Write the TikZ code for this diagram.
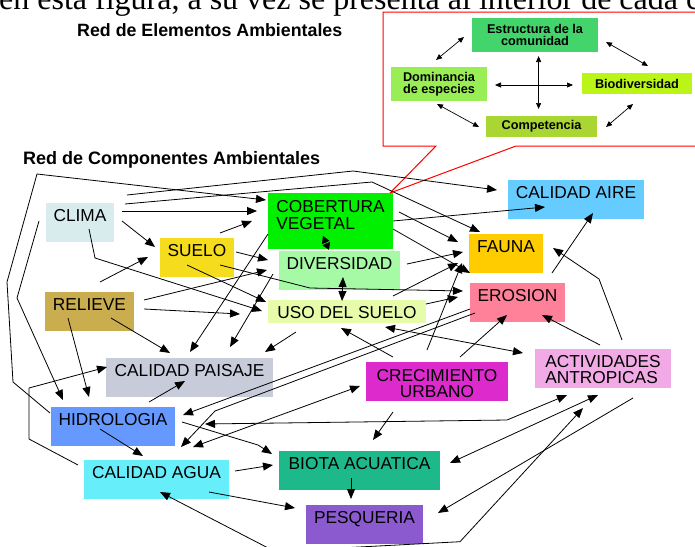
\documentclass[tikz,border=0pt]{standalone}
\usepackage{fontspec}
\setmainfont{Liberation Sans}
\newfontfamily\serifa{Liberation Serif}
\usetikzlibrary{arrows.meta,calc}
\definecolor{fclima}{HTML}{D8ECEE}
\definecolor{fsuelo}{HTML}{F5DC1C}
\definecolor{frelieve}{HTML}{C9AD4F}
\definecolor{fcob}{HTML}{00F000}
\definecolor{fdiv}{HTML}{A6FAA6}
\definecolor{fuso}{HTML}{E6FCAA}
\definecolor{faire}{HTML}{66CCFF}
\definecolor{ffauna}{HTML}{FFCC00}
\definecolor{ferosion}{HTML}{FF8099}
\definecolor{fpaisaje}{HTML}{C8CCDA}
\definecolor{fhidro}{HTML}{6699FF}
\definecolor{fagua}{HTML}{66EEFA}
\definecolor{fbiota}{HTML}{1DB98A}
\definecolor{fpesca}{HTML}{8C5ACF}
\definecolor{fcrec}{HTML}{DD2ACC}
\definecolor{factiv}{HTML}{F2AAE6}
\definecolor{festr}{HTML}{44D46C}
\definecolor{fdom}{HTML}{99EE55}
\definecolor{fbio}{HTML}{BBF518}
\definecolor{fcomp}{HTML}{AAD633}
\definecolor{rojo}{HTML}{FF0000}

\begin{document}
\begin{tikzpicture}[x=1pt,y=-1pt,
    caja/.style={anchor=north west,inner sep=0pt,outer sep=0pt},
    lbl/.style={anchor=north,yshift=-6pt,inner sep=0pt,align=center,
      font=\fontsize{17.3}{16.5}\selectfont},
    elem/.style={anchor=north west,inner sep=0pt,outer sep=0pt,align=center,
      font=\bfseries\fontsize{12.7}{12.3}\selectfont},
    titulo/.style={anchor=base west,inner sep=0pt},
    flecha/.style={-{Triangle[length=10pt,width=8pt]},line width=0.8pt},
    doble/.style={{Triangle[length=10pt,width=8pt]}-{Triangle[length=10pt,width=8pt]},line width=0.8pt},
    dbl/.style={{Triangle[length=6pt,width=5pt]}-{Triangle[length=6pt,width=5pt]},line width=0.7pt},
  ]
  \useasboundingbox (0,0) rectangle (695,546);
  \clip (0,0) rectangle (695,546);

  \node[titulo,font=\serifa\fontsize{32}{36}\selectfont] (texto) at (-1,9.5)
    {en esta figura, a su vez se presenta al interior de cada c};
  \node[titulo,font=\bfseries\fontsize{17.8}{20}\selectfont] (tit1) at (77,36)
    {Red de Elementos Ambientales};
  \node[titulo,font=\bfseries\fontsize{18}{20}\selectfont] (tit2) at (23,164)
    {Red de Componentes Ambientales};

  % recuadro de elementos
  \draw[rojo,line width=1pt] (700,12) -- (383,12) -- (383,146) -- (436,146)
    -- (390,193) -- (516,146) -- (700,146);
  \node[elem,fill=festr,minimum width=126pt,minimum height=34pt] (est) at (472,18)
    {Estructura de la\\comunidad};
  \node[elem,fill=fdom,minimum width=96pt,minimum height=34pt] (dom) at (391,67)
    {Dominancia\\de especies};
  \node[elem,fill=fbio,minimum width=110pt,minimum height=21pt] (bio) at (582,73)
    {Biodiversidad};
  \node[elem,fill=fcomp,minimum width=111pt,minimum height=21pt] (comp) at (486,116)
    {Competencia};

  \draw[dbl] ([shift={(-3,-7)}]dom.north) -- ([shift={(-8,2)}]est.west);
  \draw[dbl] ([shift={(8,7)}]est.east) -- ([shift={(11,-7)}]bio.north);
  \draw[dbl] ([shift={(-2,3)}]dom.south) -- ([shift={(-7,0.5)}]comp.west);
  \draw[dbl] ([shift={(9,0.5)}]comp.east) -- ([shift={(-4,10)}]bio.south);
  \draw[dbl] ([shift={(3.6,4)}]est.south) -- ([shift={(-2.9,-7)}]comp.north);
  \draw[dbl] ([shift={(8,1)}]dom.east) -- ([shift={(-9,1.5)}]bio.west);

  % componentes
  \node[caja,fill=fclima,minimum width=68pt,minimum height=39pt,
    label={[lbl]north:CLIMA}] (clima) at (46,203) {};
  \node[caja,fill=fsuelo,minimum width=74pt,minimum height=39pt,
    label={[lbl]north:SUELO}] (suelo) at (160,238) {};
  \node[caja,fill=frelieve,minimum width=89pt,minimum height=39pt,
    label={[lbl]north:RELIEVE}] (relieve) at (45,292) {};
  \node[caja,fill=fcob,minimum width=125pt,minimum height=56pt,
    label={[lbl,align=left,yshift=-1.5pt]north:COBERTURA\\VEGETAL}] (cob) at (268,193) {};
  \node[caja,fill=fdiv,minimum width=121pt,minimum height=39pt,
    label={[lbl]north:DIVERSIDAD}] (div) at (279,251) {};
  \node[caja,fill=fuso,minimum width=158pt,minimum height=23pt,
    label={[lbl]north:USO DEL SUELO}] (uso) at (268,300) {};
  \node[caja,fill=faire,minimum width=136pt,minimum height=39pt,
    label={[lbl]north:CALIDAD AIRE}] (caire) at (508,180) {};
  \node[caja,fill=ffauna,minimum width=74pt,minimum height=39pt,
    label={[lbl]north:FAUNA}] (fauna) at (469,234) {};
  \node[caja,fill=ferosion,minimum width=95pt,minimum height=39pt,
    label={[lbl]north:EROSION}] (eros) at (470,283) {};
  \node[caja,fill=fpaisaje,minimum width=167pt,minimum height=39pt,
    label={[lbl]north:CALIDAD PAISAJE}] (cpai) at (106,358) {};
  \node[caja,fill=fhidro,minimum width=124pt,minimum height=39pt,
    label={[lbl]north:HIDROLOGIA}] (hidro) at (51,407) {};
  \node[caja,fill=fagua,minimum width=145pt,minimum height=39pt,
    label={[lbl]north:CALIDAD AGUA}] (cagua) at (84,460) {};
  \node[caja,fill=fbiota,minimum width=161pt,minimum height=39pt,
    label={[lbl]north:BIOTA ACUATICA}] (biota) at (279,451) {};
  \node[caja,fill=fpesca,minimum width=117pt,minimum height=39pt,
    label={[lbl]north:PESQUERIA}] (pesca) at (306,505) {};
  \node[caja,fill=fcrec,minimum width=142pt,minimum height=39pt,
    label={[lbl,yshift=-1pt]north:CRECIMIENTO\\URBANO}] (crec) at (366,362) {};
  \node[caja,fill=factiv,minimum width=136pt,minimum height=39pt,
    label={[lbl,align=left]north:ACTIVIDADES\\ANTROPICAS}] (activ) at (535,349) {};

  % relaciones desde clima, suelo y relieve
  \draw[flecha] ([shift={(76,8)}]clima.north west) -- ([shift={(-11,18)}]cob.north west);
  \draw[flecha] ([shift={(76,18)}]clima.north west) -- ([shift={(-5,9)}]suelo.north west);
  \draw[flecha] ([shift={(81,-8)}]clima.north west) -- (353,171) -- ([shift={(-11,10)}]caire.north west);
  \draw[flecha] ([shift={(79,1)}]clima.north west) -- (372,182) -- ([shift={(11,-2)}]fauna.north west);
  \draw[flecha] ([shift={(43,26)}]clima.north west) -- (95,258) -- ([shift={(-6,11)}]uso.north west);
  \draw[flecha] ([shift={(-7,18)}]clima.north west) -- (17,298) -- ([shift={(12,-7)}]hidro.north west);
  \draw[flecha] ([shift={(-1,6)}]hidro.north west) -- (13,382) -- (7,282) -- (37,174)
    -- ([shift={(-2,7)}]cob.north west);
  \draw[flecha] ([shift={(60,-5)}]suelo.north west) -- ([shift={(-16,28)}]cob.north west);
  \draw[flecha] ([shift={(76,14)}]suelo.north west) -- ([shift={(-11,9)}]div.north west);
  \draw[flecha] ([shift={(27,27)}]suelo.north west) -- ([shift={(-2,2)}]uso.north west);
  \draw[flecha] ([shift={(60,27)}]suelo.north west) -- (310,288) -- ([shift={(-7,8)}]eros.north west);
  \draw[flecha] ([shift={(55,-10)}]relieve.north west) -- ([shift={(-12,19)}]suelo.north west);
  \draw[flecha] ([shift={(99,8)}]relieve.north west) -- ([shift={(-12,19)}]div.north west);
  \draw[flecha] ([shift={(99,17)}]relieve.north west) -- ([shift={(-28,14)}]uso.north west);
  \draw[flecha] ([shift={(66,26)}]relieve.north west) -- ([shift={(64,-5)}]cpai.north west);
  \draw[flecha] ([shift={(23,26)}]relieve.north west) -- ([shift={(38,-10)}]hidro.north west);

  % cobertura, diversidad y uso del suelo
  \draw[flecha] ([shift={(125,28)}]cob.north west) -- ([shift={(37,27)}]caire.north west);
  \draw[flecha] ([shift={(131,19)}]cob.north west) -- ([shift={(-11,8)}]fauna.north west);
  \draw[flecha] ([shift={(125,36)}]cob.north west) -- ([shift={(0,-10)}]eros.north west);
  \draw[{Triangle[length=7pt,width=8pt]}-{Triangle[length=7pt,width=8pt]},line width=0.8pt]
    ([shift={(55,43)}]cob.north west) -- ([shift={(50,-1)}]div.north west);
  \draw[flecha] ([shift={(0,41)}]cob.north west) -- ([shift={(84,-6)}]cpai.north west);
  \draw[flecha] ([shift={(128,13)}]div.north west) -- ([shift={(-6,18)}]fauna.north west);
  \draw[doble] ([shift={(64,26)}]div.north west) -- ([shift={(74,1)}]uso.north west);
  \draw[flecha] ([shift={(-6,23)}]div.north west) -- ([shift={(124,-11)}]cpai.north west);
  \draw[flecha] ([shift={(125,-4)}]uso.north west) -- ([shift={(-11,29)}]fauna.north west);
  \draw[flecha] ([shift={(158,4)}]uso.north west) -- ([shift={(-12,14)}]eros.north west);
  \draw[flecha] ([shift={(28,32)}]uso.north west) -- ([shift={(159,-6)}]cpai.north west);

  % hidrologia y calidad agua
  \draw[flecha] ([shift={(98,-5)}]hidro.north west) -- ([shift={(79,23)}]cpai.north west);
  \draw[flecha] ([shift={(-6,5)}]cagua.north west) -- (29,439) -- (29,388) -- ([shift={(1,9)}]cpai.north west);
  \draw[flecha] ([shift={(49,22)}]hidro.north west) -- ([shift={(59,-4)}]cagua.north west);
  \draw[flecha] ([shift={(131,15)}]hidro.north west) -- (258,445) -- ([shift={(-7,3)}]biota.north west);
  \draw[flecha] ([shift={(151,11)}]cagua.north west) -- ([shift={(-6,14)}]biota.north west);
  \draw[flecha] ([shift={(125,32)}]cagua.north west) -- ([shift={(-11,3)}]pesca.north west);
  \draw[flecha] ([shift={(72,27)}]biota.north west) -- ([shift={(45,-6)}]pesca.north west);

  % actividades antropicas
  \draw[doble] ([shift={(76,32)}]cagua.north west) -- (272,550) -- (340,548) -- (460,541.7)
    -- ([shift={(48,59)}]activ.north west);
  \draw[flecha] ([shift={(98,49)}]activ.north west) -- ([shift={(132,8)}]pesca.north west);
  \draw[doble] ([shift={(63,46)}]activ.north west) -- ([shift={(171,12)}]biota.north west);
  \draw[doble] ([shift={(32,46)}]activ.north west) -- (507,420) -- ([shift={(154,17)}]hidro.north west);
  \draw[flecha] ([shift={(65,-4)}]activ.north west) -- ([shift={(72,32)}]eros.north west);
  \draw[flecha] ([shift={(87,-9)}]activ.north west) -- (599,279) -- ([shift={(84,14)}]fauna.north west);
  \draw[doble] ([shift={(-12,4)}]activ.north west) -- ([shift={(117,27)}]uso.north west);

  % crecimiento urbano y erosion
  \draw[flecha] ([shift={(27,-5)}]crec.north west) -- ([shift={(73,28)}]uso.north west);
  \draw[flecha] ([shift={(61,-12)}]crec.north west) -- ([shift={(-7,29)}]fauna.north west);
  \draw[flecha] ([shift={(94,-5)}]crec.north west) -- ([shift={(37,32)}]eros.north west);
  \draw[flecha] ([shift={(27,50)}]crec.north west) -- ([shift={(94,-11)}]biota.north west);
  \draw[doble] ([shift={(-6,24)}]crec.north west) -- ([shift={(109,-13)}]cagua.north west);
  \draw[flecha] ([shift={(0,26)}]eros.north west) -- ([shift={(132,8)}]hidro.north west);
  \draw[flecha] ([shift={(5,30)}]eros.north west) -- (215,411) -- ([shift={(97,-13)}]cagua.north west);
  \draw[flecha] ([shift={(82,-10)}]eros.north west) -- ([shift={(85,33)}]caire.north west);
\end{tikzpicture}
\end{document}
